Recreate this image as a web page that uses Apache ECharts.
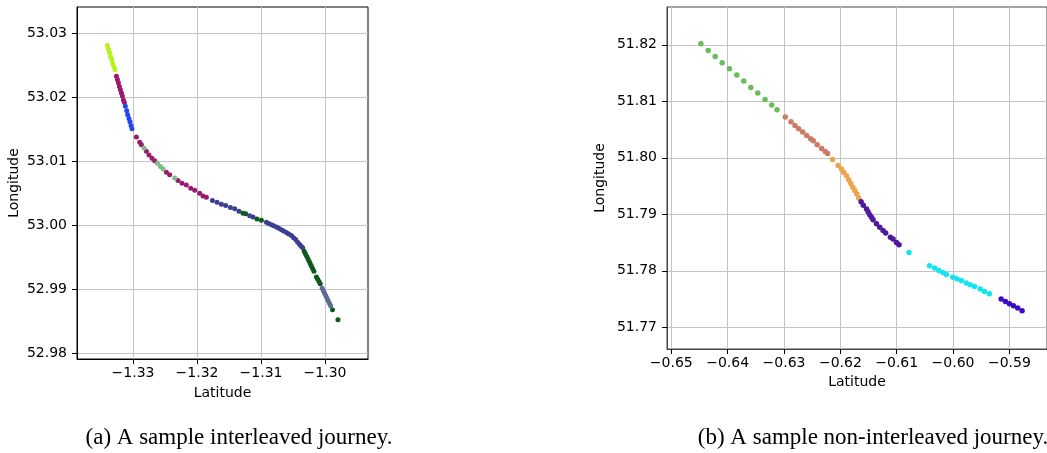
<!DOCTYPE html>
<html>
<head>
<meta charset="utf-8">
<script src="https://cdn.jsdelivr.net/npm/echarts@6/dist/echarts.min.js"></script>
<style>
  html, body { margin: 0; padding: 0; background: #fff; }
  #chart { width: 1047px; height: 453px; }
</style>
</head>
<body>
<div id="chart"></div>
<script>
// tick labels
const leftXTicks = [-1.33, -1.32, -1.31, -1.30];
const leftYTicks = [52.98, 52.99, 53.00, 53.01, 53.02, 53.03];
const rightXTicks = [-0.65, -0.64, -0.63, -0.62, -0.61, -0.60, -0.59];
const rightYTicks = [51.77, 51.78, 51.79, 51.80, 51.81, 51.82];

// (a) interleaved journey, [latitude, longitude]
const leftYellow = [
  [-1.3340, 53.0281], [-1.33384, 53.0275], [-1.33367, 53.0270], [-1.3335, 53.0264],
  [-1.33333, 53.0259], [-1.33316, 53.0253], [-1.33298, 53.0248], [-1.33281, 53.0243]
];
const leftMagenta = [
  [-1.33259, 53.0233], [-1.33244, 53.0228], [-1.33228, 53.0223], [-1.33213, 53.0217],
  [-1.33197, 53.0212], [-1.33181, 53.0207], [-1.33166, 53.0202], [-1.3315, 53.0196],
  [-1.33134, 53.0192],
  [-1.32947, 53.0138], [-1.32895, 53.0130], [-1.32869, 53.0126], [-1.32791, 53.0116],
  [-1.3275, 53.0110], [-1.32703, 53.0105], [-1.32661, 53.0101], [-1.32478, 53.0083],
  [-1.32427, 53.0079], [-1.32297, 53.0070], [-1.32234, 53.0066], [-1.32166, 53.0063],
  [-1.32098, 53.0058], [-1.32036, 53.0055], [-1.31958, 53.0050], [-1.31906, 53.0046],
  [-1.31853, 53.0044]
];
const leftBlue = [
  [-1.33119, 53.0186], [-1.33098, 53.0179], [-1.33083, 53.0173], [-1.33063, 53.0167],
  [-1.33047, 53.0162], [-1.33031, 53.0156], [-1.33016, 53.0151]
];
const leftPaleGreen = [
  [-1.32828, 53.0121], [-1.32619, 53.0097], [-1.32572, 53.0092], [-1.32531, 53.0088],
  [-1.32348, 53.0074]
];
const leftNavy = [
  [-1.31759, 53.0039], [-1.31687, 53.0036], [-1.31619, 53.0033], [-1.31552, 53.0031],
  [-1.31478, 53.0028], [-1.31411, 53.0026], [-1.31344, 53.0022], [-1.31177, 53.0015],
  [-1.31125, 53.0013], [-1.30916, 53.0005], [-1.3088, 53.0003], [-1.30837, 53.0001],
  [-1.30802, 52.99995], [-1.30759, 52.99975], [-1.30723, 52.99955], [-1.30681, 52.9993],
  [-1.30645, 52.99912], [-1.30603, 52.9989], [-1.30567, 52.99866], [-1.30525, 52.9984],
  [-1.30491, 52.99808], [-1.30458, 52.9978], [-1.30427, 52.99737], [-1.30395, 52.9970],
  [-1.30372, 52.99675], [-1.30348, 52.9965]
];
const leftDarkGreen = [
  [-1.31281, 53.0019], [-1.31239, 53.0018], [-1.31062, 53.0010], [-1.30994, 53.0008],
  [-1.30325, 52.99597], [-1.30306, 52.99558], [-1.30286, 52.99519], [-1.30267, 52.9948],
  [-1.30248, 52.99441], [-1.3023, 52.99402], [-1.30211, 52.99362], [-1.30192, 52.99323],
  [-1.30173, 52.99284], [-1.30134, 52.99194], [-1.30114, 52.99159], [-1.30094, 52.99123],
  [-1.30075, 52.99089], [-1.29883, 52.98683], [-1.29797, 52.98527]
];
const leftSlate = [
  [-1.30044, 52.99019], [-1.30025, 52.9898], [-1.30006, 52.98941], [-1.29987, 52.98902],
  [-1.29969, 52.98862], [-1.2995, 52.98823], [-1.29931, 52.98784], [-1.29912, 52.98745]
];

// (b) non-interleaved journey
const rightGreen = [
  [-0.64474, 51.82018], [-0.64345, 51.81899], [-0.64221, 51.81793], [-0.64097, 51.81681],
  [-0.63968, 51.81575], [-0.63837, 51.81464], [-0.63713, 51.81358], [-0.63589, 51.81244],
  [-0.63465, 51.81145], [-0.63336, 51.81032], [-0.63218, 51.80933], [-0.63124, 51.8085]
];
const rightSalmon = [
  [-0.62977, 51.8072], [-0.62876, 51.80637], [-0.62805, 51.80572], [-0.6274, 51.80513],
  [-0.62669, 51.80455], [-0.62598, 51.80395], [-0.62527, 51.80336], [-0.62481, 51.80301],
  [-0.62411, 51.8023], [-0.62333, 51.80165], [-0.62269, 51.80112], [-0.62227, 51.80076]
];
const rightOrange = [
  [-0.62138, 51.7997], [-0.62039, 51.79864], [-0.61979, 51.798], [-0.61938, 51.7974],
  [-0.6189, 51.79681], [-0.6185, 51.79611], [-0.61814, 51.79545], [-0.61779, 51.79478],
  [-0.61743, 51.79421], [-0.61708, 51.79358], [-0.61673, 51.79287]
];
const rightPurple = [
  [-0.61632, 51.79221], [-0.61593, 51.79159], [-0.61536, 51.79092], [-0.61508, 51.79044],
  [-0.61478, 51.78991], [-0.61448, 51.78947], [-0.61419, 51.78903], [-0.61359, 51.78832],
  [-0.61301, 51.78773], [-0.61242, 51.78713], [-0.61195, 51.78667], [-0.61112, 51.78596],
  [-0.61065, 51.78561], [-0.61005, 51.78501], [-0.60959, 51.7846]
];
const rightCyan = [
  [-0.60782, 51.78324], [-0.60416, 51.78088], [-0.60327, 51.78048], [-0.60251, 51.78005],
  [-0.6018, 51.7797], [-0.6012, 51.77935], [-0.60004, 51.77888], [-0.59933, 51.77858],
  [-0.59855, 51.77828], [-0.59766, 51.77782], [-0.59696, 51.77752], [-0.59619, 51.77722],
  [-0.59519, 51.77676], [-0.59442, 51.77634], [-0.59354, 51.77593]
];
const rightViolet = [
  [-0.59147, 51.77499], [-0.59071, 51.77457], [-0.59, 51.77416], [-0.58929, 51.7738],
  [-0.58853, 51.7734], [-0.58775, 51.77292]
];

const captions = ['(a) A sample interleaved journey.', '(b) A sample non-interleaved journey.'];

let chart = echarts.init(document.getElementById('chart'));

const tickFont = { fontFamily: 'DejaVu Sans', fontSize: 14, color: '#000' };
const captionFont = { fontFamily: 'Liberation Serif', fontSize: 23, fontWeight: 'normal', color: '#000' };
const fmt = v => v.toFixed(2).replace('-', '\u2212');

function valueAxis(ticks, min, max, gridIndex, name, nameGap, isY, lineColor) {
  return {
    type: 'value',
    gridIndex: gridIndex,
    min: min,
    max: max,
    name: name,
    nameLocation: 'middle',
    nameGap: nameGap,
    nameTextStyle: tickFont,
    axisLine: { show: true, onZero: false, lineStyle: { color: lineColor, width: 1 } },
    axisTick: { show: true, length: 5, customValues: ticks, lineStyle: { color: '#000' } },
    axisLabel: Object.assign({ customValues: ticks, formatter: fmt, margin: isY ? 10 : 7 }, tickFont),
    splitLine: { show: true, lineStyle: { color: '#c4c4c4', width: 1 } }
  };
}

function dots(data, color, xi, size) {
  return {
    type: 'scatter',
    xAxisIndex: xi,
    yAxisIndex: xi,
    data: data,
    symbolSize: size,
    itemStyle: { color: color, opacity: 1 },
    silent: true
  };
}

let option = {
  animation: false,
  title: [
    { text: captions[0], left: 234, top: 421, textAlign: 'center', textStyle: captionFont },
    { text: captions[1], left: 868, top: 421, textAlign: 'center', textStyle: captionFont }
  ],
  grid: [
    { left: 77, top: 7, width: 291, height: 352, show: true, borderColor: '#000', borderWidth: 1, backgroundColor: 'transparent' },
    { left: 667, top: 7, width: 381, height: 342, show: true, borderColor: '#444', borderWidth: 1, backgroundColor: 'transparent' }
  ],
  xAxis: [
    valueAxis(leftXTicks, -1.33875, -1.29328, 0, 'Latitude', 27, false, '#000'),
    valueAxis(rightXTicks, -0.65076, -0.58333, 1, 'Latitude', 26, false, '#444')
  ],
  yAxis: [
    valueAxis(leftYTicks, 52.97912, 53.03412, 0, 'Longitude', 56, true, '#000'),
    valueAxis(rightYTicks, 51.76616, 51.82669, 1, 'Longitude', 60, true, '#444')
  ],
  series: [
    dots(leftYellow, '#b8f21e', 0, 5),
    dots(leftMagenta, '#9a1a6c', 0, 5),
    dots(leftBlue, '#2246ee', 0, 5),
    dots(leftPaleGreen, '#7dbb86', 0, 5),
    dots(leftNavy, '#3c3e92', 0, 5),
    dots(leftDarkGreen, '#0b5a1f', 0, 5),
    dots(leftSlate, '#5c6c92', 0, 5),
    dots(rightGreen, '#68bd58', 1, 5.5),
    dots(rightSalmon, '#cf7a68', 1, 5.5),
    dots(rightOrange, '#eea44f', 1, 5.5),
    dots(rightPurple, '#4b1a9e', 1, 5.5),
    dots(rightCyan, '#14e4f2', 1, 5.5),
    dots(rightViolet, '#3d0cc2', 1, 5.5)
  ]
};
chart.setOption(option);
window.addEventListener('resize', () => chart.resize());
</script>
</body>
</html>
